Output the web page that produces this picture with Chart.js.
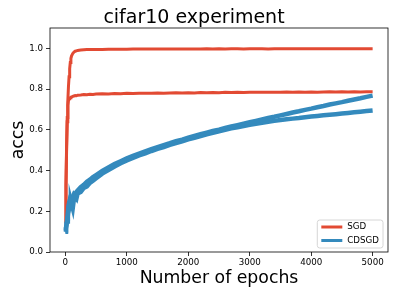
<!DOCTYPE html>
<html>
<head>
<meta charset="utf-8">
<script src="https://cdn.jsdelivr.net/npm/chart.js@4/dist/chart.umd.min.js"></script>
<style>
html,body{margin:0;padding:0;background:#fff;}
#wrap{width:399px;height:298px;}
</style>
</head>
<body>
<div id="wrap"><canvas id="c" width="399" height="298"></canvas></div>
<script>
const titleText = "cifar10 experiment";
const xLabel = "Number of epochs";
const yLabel = "accs";
const seriesNames = ["SGD", "CDSGD"];
const seriesColors = ["#E24A33", "#348ABD"];
const xTicks = [0, 1000, 2000, 3000, 4000, 5000];
const yTicks = [0.0, 0.2, 0.4, 0.6, 0.8, 1.0];

const epochs = [0,10,20,30,40,50,60,70,80,90,100,120,140,160,180,200,250,300,350,400,450,500,
  600,700,800,900,1000,1100,1200,1300,1400,1500,1600,1700,1800,1900,2000,
  2100,2200,2300,2400,2500,2600,2700,2800,2900,3000,3100,3200,3300,3400,3500,
  3600,3700,3800,3900,4000,4100,4200,4300,4400,4500,4600,4700,4800,4900,5000];

const sgdTrain = [0.14,0.32,0.50,0.64,0.74,0.81,0.86,0.90,0.93,0.95,0.962,0.975,0.982,0.986,0.988,0.990,0.992,0.993,0.994,0.994,0.995,0.995,
  0.995,0.996,0.996,0.996,0.996,0.997,0.997,0.997,0.997,0.997,0.997,0.997,0.997,0.997,0.997,
  0.997,0.997,0.998,0.997,0.998,0.997,0.998,0.998,0.997,0.998,0.998,0.998,0.997,0.998,0.998,
  0.998,0.998,0.998,0.998,0.998,0.998,0.998,0.998,0.998,0.998,0.998,0.998,0.998,0.998,0.998];

const sgdTest = [0.14,0.33,0.52,0.66,0.72,0.742,0.752,0.756,0.758,0.760,0.761,0.764,0.766,0.768,0.767,0.770,0.771,0.773,0.772,0.775,0.774,0.776,
  0.777,0.776,0.778,0.777,0.779,0.778,0.780,0.779,0.780,0.781,0.780,0.781,0.782,0.781,0.782,
  0.781,0.783,0.782,0.783,0.782,0.784,0.783,0.784,0.783,0.784,0.785,0.784,0.785,0.784,0.785,
  0.786,0.785,0.786,0.785,0.786,0.785,0.786,0.787,0.786,0.787,0.786,0.787,0.786,0.787,0.787];

const cdsgdA = [0.100,0.118,0.135,0.165,0.190,0.225,0.240,0.250,0.262,0.255,0.268,0.272,0.285,0.280,0.295,0.302,0.318,0.330,0.345,0.355,0.368,0.378,
  0.398,0.415,0.432,0.446,0.460,0.472,0.483,0.494,0.505,0.515,0.525,0.534,0.544,0.552,0.561,
  0.570,0.578,0.586,0.594,0.601,0.609,0.616,0.623,0.630,0.637,0.644,0.651,0.658,0.664,0.671,
  0.678,0.685,0.691,0.698,0.704,0.711,0.717,0.724,0.730,0.736,0.743,0.749,0.755,0.762,0.768];

const cdsgdB = [0.105,0.112,0.142,0.150,0.175,0.205,0.225,0.205,0.245,0.250,0.238,0.215,0.262,0.270,0.262,0.288,0.295,0.315,0.322,0.340,0.350,0.362,
  0.385,0.402,0.420,0.436,0.450,0.462,0.474,0.484,0.496,0.506,0.515,0.526,0.535,0.544,0.553,
  0.561,0.569,0.578,0.585,0.593,0.600,0.607,0.613,0.619,0.625,0.630,0.635,0.640,0.644,0.648,
  0.652,0.655,0.658,0.662,0.665,0.668,0.671,0.674,0.677,0.680,0.683,0.686,0.689,0.692,0.695];

const pts = arr => epochs.map((e, i) => ({x: e, y: arr[i]}));
const FONT = "DejaVu Sans";

const frame = {
  id: 'frame',
  afterDatasetsDraw(chart) {
    const {ctx, chartArea: a} = chart;
    ctx.save();
    ctx.strokeStyle = '#000';
    ctx.lineWidth = 0.8;
    ctx.strokeRect(a.left, a.top, a.right - a.left, a.bottom - a.top);
    ctx.restore();
  },
  afterDraw(chart) {
    const {ctx, chartArea: a} = chart;
    ctx.save();
    ctx.font = '8.7px "' + FONT + '"';
    let tw = 0;
    seriesNames.forEach(n => { tw = Math.max(tw, ctx.measureText(n).width); });
    const w = 4 + 21 + 5 + tw + 4;
    const h = 28;
    const right = a.right - 5, bottom = a.bottom - 4;
    const left = right - w, top = bottom - h;
    ctx.beginPath();
    ctx.roundRect(left, top, w, h, 2.5);
    ctx.fillStyle = 'rgba(255,255,255,0.8)';
    ctx.fill();
    ctx.strokeStyle = '#cccccc';
    ctx.lineWidth = 0.8;
    ctx.stroke();
    seriesNames.forEach((n, i) => {
      const y = top + 7 + i * 13.5;
      ctx.beginPath();
      ctx.moveTo(left + 4, y);
      ctx.lineTo(left + 25, y);
      ctx.strokeStyle = seriesColors[i];
      ctx.lineWidth = 3;
      ctx.stroke();
      ctx.fillStyle = '#000';
      ctx.textBaseline = 'middle';
      ctx.textAlign = 'left';
      ctx.fillText(n, left + 30, y);
    });
    ctx.restore();
  }
};

const mk = (label, arr, color, width, order) => ({
  label, data: pts(arr), borderColor: color, backgroundColor: color,
  borderWidth: width, pointRadius: 0, tension: 0, fill: false, order
});

new Chart(document.getElementById('c'), {
  type: 'line',
  data: {
    datasets: [
      mk(seriesNames[1], cdsgdA, seriesColors[1], 4.5, 0),
      mk(seriesNames[1], cdsgdB, seriesColors[1], 4.5, 0),
      mk(seriesNames[0], sgdTrain, seriesColors[0], 3, 1),
      mk(seriesNames[0], sgdTest, seriesColors[0], 3, 1)
    ]
  },
  options: {
    responsive: false,
    animation: false,
    devicePixelRatio: 1,
    layout: {padding: {left: 0, right: 11, top: 0, bottom: 0}},
    plugins: {
      legend: {display: false},
      tooltip: {enabled: false},
      title: {
        display: true, text: titleText, color: '#000',
        font: {family: FONT, size: 19, weight: 'normal', lineHeight: 1.0},
        padding: {top: 8.2, bottom: 0.8}
      }
    },
    scales: {
      x: {
        type: 'linear', min: -250, max: 5250,
        afterBuildTicks: s => { s.ticks = xTicks.map(v => ({value: v})); },
        afterFit: s => { s.height = 46; },
        border: {display: false},
        grid: {drawOnChartArea: false, drawTicks: true, tickLength: 4, color: '#000', lineWidth: 0.8},
        ticks: {color: '#000', font: {family: FONT, size: 8.7}, padding: 2, maxRotation: 0,
          callback: v => String(v)},
        title: {display: true, text: xLabel, color: '#000',
          font: {family: FONT, size: 17.3, lineHeight: 1.2}, padding: {top: 0, bottom: 9.3}}
      },
      y: {
        type: 'linear', min: 0, max: 1.1,
        afterBuildTicks: s => { s.ticks = yTicks.map(v => ({value: v})); },
        afterFit: s => { s.width = 50; },
        border: {display: false},
        grid: {drawOnChartArea: false, drawTicks: true, tickLength: 4, color: '#000', lineWidth: 0.8},
        ticks: {color: '#000', font: {family: FONT, size: 8.7}, padding: 3,
          callback: v => Number(v).toFixed(1)},
        title: {display: true, text: yLabel, color: '#000',
          font: {family: FONT, size: 17.3, lineHeight: 1.2}, padding: {top: 8.6, bottom: 0}}
      }
    }
  },
  plugins: [frame]
});
</script>
</body>
</html>
